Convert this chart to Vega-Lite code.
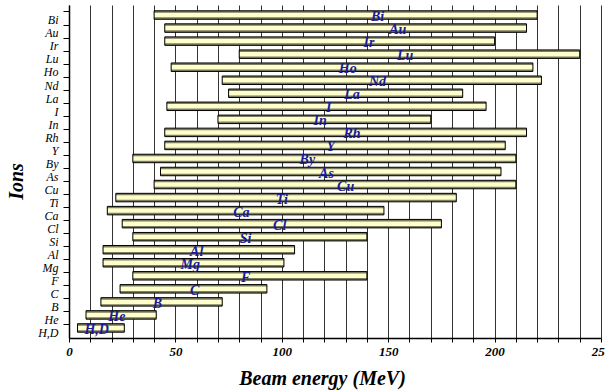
{
  "$schema": "https://vega.github.io/schema/vega-lite/v6.json",
  "autosize": {"type": "none"},
  "padding": {"left": 69, "top": 5, "right": 4, "bottom": 53},
  "width": 532,
  "height": 333,
  "background": "white",
  "config": {
    "view": {"stroke": null},
    "font": "Liberation Serif",
    "axisX": {
      "grid": true,
      "gridColor": "#333",
      "gridWidth": 1,
      "tickSize": 4,
      "tickColor": "#000",
      "domainColor": "#000",
      "domainWidth": 1.5,
      "labelFont": "Liberation Serif",
      "labelFontStyle": "italic",
      "labelFontWeight": "bold",
      "labelFontSize": 13,
      "labelColor": "#000",
      "labelPadding": 3,
      "labelFlush": false,
      "labelOverlap": false,
      "titleFont": "Liberation Serif",
      "titleFontSize": 20,
      "titleFontStyle": "italic",
      "titleFontWeight": "bold",
      "titleColor": "#000",
      "titleX": 253,
      "titleY": 46,
      "titleAlign": "center",
      "titleBaseline": "alphabetic"
    }
  },
  "data": {
    "values": [
      {"ion": "Bi", "lo": 40, "hi": 220, "label_energy": 145},
      {"ion": "Au", "lo": 45, "hi": 215, "label_energy": 154.5},
      {"ion": "Ir", "lo": 45, "hi": 200, "label_energy": 141},
      {"ion": "Lu", "lo": 80, "hi": 240, "label_energy": 158},
      {"ion": "Ho", "lo": 48, "hi": 218, "label_energy": 131},
      {"ion": "Nd", "lo": 72, "hi": 222, "label_energy": 145},
      {"ion": "La", "lo": 75, "hi": 185, "label_energy": 133},
      {"ion": "I", "lo": 46, "hi": 196, "label_energy": 122},
      {"ion": "In", "lo": 70, "hi": 170, "label_energy": 118},
      {"ion": "Rh", "lo": 45, "hi": 215, "label_energy": 133},
      {"ion": "Y", "lo": 45, "hi": 205, "label_energy": 123},
      {"ion": "By", "lo": 30, "hi": 210, "label_energy": 112},
      {"ion": "As", "lo": 43, "hi": 203, "label_energy": 121},
      {"ion": "Cu", "lo": 40, "hi": 210, "label_energy": 130},
      {"ion": "Ti", "lo": 22, "hi": 182, "label_energy": 100},
      {"ion": "Ca", "lo": 18, "hi": 148, "label_energy": 81},
      {"ion": "Cl", "lo": 25, "hi": 175, "label_energy": 99},
      {"ion": "Si", "lo": 30, "hi": 140, "label_energy": 83},
      {"ion": "Al", "lo": 16, "hi": 106, "label_energy": 60},
      {"ion": "Mg", "lo": 16, "hi": 101, "label_energy": 57},
      {"ion": "F", "lo": 30, "hi": 140, "label_energy": 83},
      {"ion": "C", "lo": 24, "hi": 93, "label_energy": 59},
      {"ion": "B", "lo": 15, "hi": 72, "label_energy": 41.5},
      {"ion": "He", "lo": 8, "hi": 41, "label_energy": 22.5},
      {"ion": "H,D", "lo": 4, "hi": 26, "label_energy": 13}
    ]
  },
  "encoding": {
    "y": {
      "field": "ion",
      "type": "nominal",
      "sort": null,
      "scale": {"paddingInner": 0.35, "paddingOuter": 0.445},
      "axis": {
        "title": "Ions",
        "titleFont": "Liberation Serif",
        "titleFontSize": 20,
        "titleFontStyle": "italic",
        "titleFontWeight": "bold",
        "titleColor": "#000",
        "titleX": -53,
        "titleY": 176,
        "titleAngle": -90,
        "titleAlign": "center",
        "titleBaseline": "middle",
        "labelFont": "Liberation Serif",
        "labelFontStyle": "italic",
        "labelFontSize": 12,
        "labelColor": "#000",
        "labelPadding": 5,
        "tickSize": 6,
        "tickColor": "#000",
        "domainColor": "#000",
        "domainWidth": 1.5,
        "bandPosition": 0.14,
        "labelOffset": 5.3
      }
    },
    "x": {
      "field": "lo",
      "type": "quantitative",
      "scale": {"domain": [0, 250], "nice": false},
      "axis": {
        "title": "Beam energy (MeV)",
        "values": [0, 10, 20, 30, 40, 50, 60, 70, 80, 90, 100, 110, 120, 130, 140, 150, 160, 170, 180, 190, 200, 210, 220, 230, 240, 250],
        "labelExpr": "datum.value % 50 === 0 ? datum.label : ''"
      }
    }
  },
  "layer": [
    {
      "mark": {"type": "bar", "fill": "#7d7d60"},
      "encoding": {"x2": {"field": "hi"}}
    },
    {
      "mark": {"type": "bar", "fill": "#ffffcc", "size": 4.5},
      "encoding": {"x2": {"field": "hi"}}
    },
    {
      "mark": {"type": "bar", "fill": null, "fillOpacity": 0, "stroke": "#000", "strokeWidth": 1},
      "encoding": {"x2": {"field": "hi"}}
    },
    {
      "mark": {"type": "text", "font": "Liberation Serif", "fontStyle": "italic", "fontWeight": "bold", "fontSize": 14, "color": "#1a1a9a", "dy": 2},
      "encoding": {
        "x": {
          "field": "label_energy",
          "type": "quantitative",
          "axis": {
            "title": "Beam energy (MeV)",
            "values": [0, 10, 20, 30, 40, 50, 60, 70, 80, 90, 100, 110, 120, 130, 140, 150, 160, 170, 180, 190, 200, 210, 220, 230, 240, 250],
            "labelExpr": "datum.value % 50 === 0 ? datum.label : ''"
          }
        },
        "text": {"field": "ion"}
      }
    }
  ]
}
